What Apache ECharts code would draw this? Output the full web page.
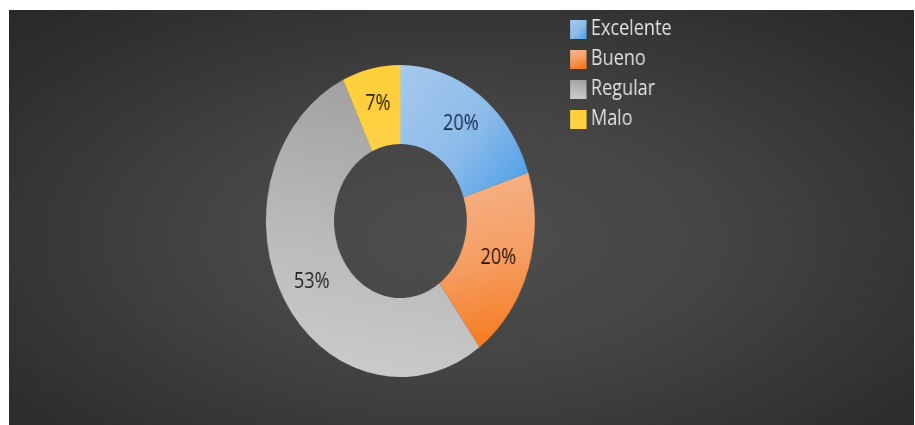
<!DOCTYPE html>
<html>
<head>
<meta charset="utf-8">
<script src="https://cdn.jsdelivr.net/npm/echarts@6/dist/echarts.min.js"></script>
<style>
  html, body { margin: 0; padding: 0; background: #ffffff; width: 915px; height: 425px; overflow: hidden; }
  #panel {
    position: absolute; left: 9px; top: 10px; width: 905px; height: 415px;
    background: radial-gradient(ellipse at 50% 55%, #4e4e4e 0%, #444444 40%, #2e2e2e 85%, #282828 100%);
    overflow: hidden;
  }
  /* chart is laid out wider, then narrowed to the panel width */
  #chart {
    position: absolute; left: 0; top: 0; width: 1050px; height: 415px;
    transform: scaleX(0.862); transform-origin: 0 0;
  }
</style>
</head>
<body>
<div id="panel"><div id="chart"></div></div>
<script>
const categories = ['Excelente', 'Bueno', 'Regular', 'Malo'];
const percentages = [20, 20, 53, 7];

// fill gradients per slice (light to saturated)
const sliceFills = [
  { x: 0, y: 0, x2: 1, y2: 1, stops: ['#a6c9ec', '#8cbbea', '#469ce8'] },
  { x: 0, y: 0, x2: 0.3, y2: 1, stops: ['#f5b48a', '#f59e62', '#f57c22'] },
  { x: 0.6, y: 0, x2: 0.4, y2: 1, stops: ['#a0a0a0', '#bababa', '#cbcbcb'] },
  { x: 0, y: 0, x2: 0, y2: 1, stops: ['#ffcf3c', '#ffd03e', '#fdd24a'] }
];
const labelColors = ['#1b2a48', '#2a1208', '#262626', '#2e2200'];

function grad(g) {
  return {
    type: 'linear', x: g.x, y: g.y, x2: g.x2, y2: g.y2,
    colorStops: [
      { offset: 0, color: g.stops[0] },
      { offset: 0.55, color: g.stops[1] },
      { offset: 1, color: g.stops[2] }
    ]
  };
}

const chart = echarts.init(document.getElementById('chart'), null, { renderer: 'canvas' });
chart.setOption({
  backgroundColor: 'transparent',
  animation: false,
  legend: {
    orient: 'vertical',
    left: 646,
    top: 4,
    itemWidth: 19,
    itemHeight: 19,
    itemGap: 9,
    icon: 'rect',
    textStyle: { color: '#e2e2e2', fontSize: 21, lineHeight: 21, fontFamily: 'Open Sans', padding: [0, 0, 0, 0] },
    data: categories
  },
  series: [{
    type: 'pie',
    center: [454, 211],
    radius: [77, 156],
    startAngle: 90,
    clockwise: true,
    avoidLabelOverlap: false,
    label: {
      show: true,
      position: 'inside',
      formatter: '{c}%',
      fontSize: 21,
      fontFamily: 'Open Sans'
    },
    labelLine: { show: false },
    emphasis: { disabled: true },
    data: categories.map((name, i) => ({
      name: name,
      value: percentages[i],
      itemStyle: { color: grad(sliceFills[i]) },
      label: { color: labelColors[i] }
    }))
  }]
});
</script>
</body>
</html>
